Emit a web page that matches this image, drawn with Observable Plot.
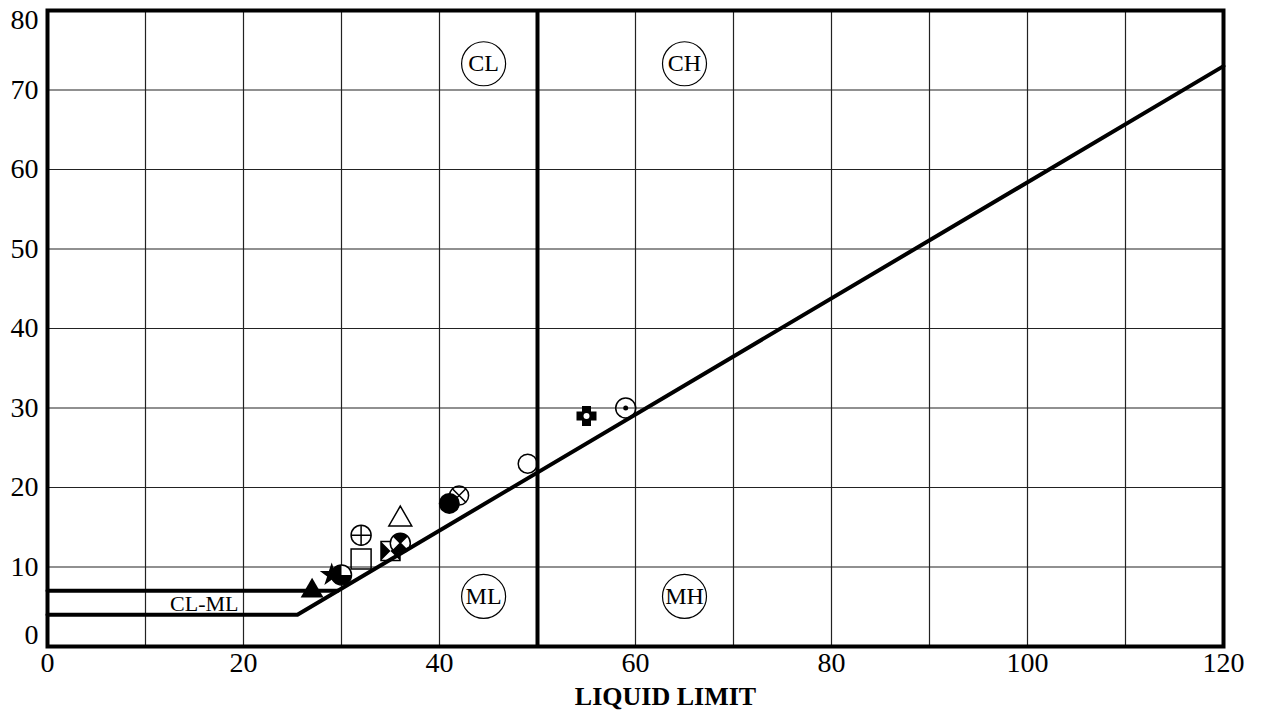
<!DOCTYPE html>
<html>
<head>
<meta charset="utf-8">
<script src="https://cdn.jsdelivr.net/npm/d3@7"></script>
<script src="https://cdn.jsdelivr.net/npm/@observablehq/plot@0.6"></script>
<style>
  html, body { margin: 0; padding: 0; background: #fff; }
  svg text { font-family: "Liberation Serif", "Times New Roman", serif; }
</style>
</head>
<body>
<div id="chart"></div>
<script>
// ---- Data ----
const sampleLL = [27, 29, 30, 32, 32, 35, 36, 36, 41, 42, 49, 55, 59];
const samplePI = [7, 9, 9, 11, 14, 12, 13, 16, 18, 19, 23, 29, 30];
const sampleKind = ["triangleFilled", "starFilled", "circleQuarter", "square", "circlePlus", "bowtie",
  "circleXFilled", "triangle", "circleFilled", "circleX", "circle", "crossHole", "circleDot"];

// A-line (with 4 PI base) and the upper CL-ML boundary (PI = 7)
const aLineLL = [0, 25.5, 120];
const aLinePI = [4, 4, 73];
const upperLL = [0, 29.6];
const upperPI = [7, 7];
const dividerLL = [50];

const zoneNames = ["CL", "CH", "ML", "MH"];
const zoneLL = [44.5, 65, 44.5, 65];
const zonePI = [73.3, 73.3, 6.3, 6.3];
const clmlLabel = ["CL-ML"];
const clmlLL = [16];
const clmlPI = [5.4];

const xTicks = [0, 20, 40, 60, 80, 100, 120];
const yTicksMid = [10, 20, 30, 40, 50, 60, 70];
const yTickTop = [80];
const yTickBottom = [0];
const gridXVals = [10, 20, 30, 40, 50, 60, 70, 80, 90, 100, 110];
const gridYVals = [10, 20, 30, 40, 50, 60, 70];
const xLabel = "LIQUID LIMIT";

// ---- custom symbols ----
const rad = (size) => Math.sqrt(size / Math.PI);
const sym = (f) => ({draw(ctx, size) { f(ctx, rad(size)); }});
const wedgeFill = sym((c, r) => { c.moveTo(0, 0); c.lineTo(r, 0); c.arc(0, 0, r, 0, 1.5 * Math.PI); c.closePath(); });
const xWedges = sym((c, r) => {
  const a = Math.PI / 4;
  c.moveTo(0, 0); c.arc(0, 0, r, -3 * a, -a); c.closePath();
  c.moveTo(0, 0); c.arc(0, 0, r, a, 3 * a); c.closePath();
});
const xLines = sym((c, r) => { const k = r * Math.SQRT1_2; c.moveTo(-k, -k); c.lineTo(k, k); c.moveTo(k, -k); c.lineTo(-k, k); });
const plusLines = sym((c, r) => { c.moveTo(-r, 0); c.lineTo(r, 0); c.moveTo(0, -r); c.lineTo(0, r); });
const squareOutline = sym((c, r) => { c.moveTo(-r, -r); c.lineTo(r, -r); c.lineTo(r, r); c.lineTo(-r, r); c.closePath(); });
const bowtieFill = sym((c, r) => {
  c.moveTo(-r, -r); c.lineTo(0, 0); c.lineTo(-r, r); c.closePath();
  c.moveTo(r, -r); c.lineTo(0, 0); c.lineTo(r, r); c.closePath();
});
const crossFill = sym((c, r) => {
  const w = 0.45 * r;
  c.moveTo(-w, -r); c.lineTo(w, -r); c.lineTo(w, -w); c.lineTo(r, -w); c.lineTo(r, w); c.lineTo(w, w);
  c.lineTo(w, r); c.lineTo(-w, r); c.lineTo(-w, w); c.lineTo(-r, w); c.lineTo(-r, -w); c.lineTo(-w, -w); c.closePath();
});

const idx = d3.range(sampleLL.length);
const pick = (k) => idx.filter((i) => sampleKind[i] === k);
const dots = (k, opts) => Plot.dot(pick(k), {x: (i) => sampleLL[i], y: (i) => samplePI[i], ...opts});
const outline = {fill: "none", stroke: "black", strokeWidth: 1.5};
const solid = {fill: "black", stroke: "none"};
const serif = "Liberation Serif";

const aLine = aLineLL.map((x, i) => ({x, y: aLinePI[i]}));
const upper = upperLL.map((x, i) => ({x, y: upperPI[i]}));
const zones = zoneNames.map((n, i) => ({n, x: zoneLL[i], y: zonePI[i]}));
const axisOpts = {tickSize: 0, fontSize: 28, fontFamily: serif, label: null, fill: "black"};

const chart = Plot.plot({
  width: 1264,
  height: 717,
  marginLeft: 47,
  marginRight: 41,
  marginTop: 10,
  marginBottom: 71,
  style: {fontFamily: serif, fontSize: "28px", background: "white", color: "black"},
  x: {domain: [0, 120]},
  y: {domain: [0, 80]},
  marks: [
    Plot.gridX(gridXVals, {stroke: "#222", strokeOpacity: 1, strokeWidth: 1.2}),
    Plot.gridY(gridYVals, {stroke: "#222", strokeOpacity: 1, strokeWidth: 1.2}),
    Plot.axisX(xTicks, {...axisOpts, tickPadding: 6}),
    Plot.axisY(yTicksMid, {...axisOpts, tickPadding: 9}),
    Plot.axisY(yTickTop, {...axisOpts, tickPadding: 9, dy: 10}),
    Plot.axisY(yTickBottom, {...axisOpts, tickPadding: 9, dy: -11}),
    // markers
    dots("triangleFilled", {symbol: "triangle", r: 8.5, ...solid}),
    dots("starFilled", {symbol: "star", r: 7.5, ...solid}),
    dots("circleQuarter", {r: 10, fill: "white", stroke: "black", strokeWidth: 1.5}),
    dots("circleQuarter", {symbol: wedgeFill, r: 10, ...solid}),
    dots("square", {symbol: squareOutline, r: 10, ...outline}),
    dots("circlePlus", {r: 10, ...outline}),
    dots("circlePlus", {symbol: plusLines, r: 10, ...outline}),
    dots("bowtie", {symbol: squareOutline, r: 9.5, ...outline}),
    dots("bowtie", {symbol: bowtieFill, r: 9.5, ...solid}),
    dots("circleXFilled", {r: 10, fill: "white", stroke: "black", strokeWidth: 1.5}),
    dots("circleXFilled", {symbol: xWedges, r: 10, ...solid}),
    dots("circleXFilled", {symbol: xLines, r: 10, ...outline}),
    dots("triangle", {symbol: "triangle", r: 8.5, ...outline}),
    dots("circleFilled", {r: 10.5, ...solid}),
    dots("circleX", {r: 9.5, ...outline}),
    dots("circleX", {symbol: xLines, r: 9.5, ...outline}),
    dots("circle", {r: 9.5, ...outline}),
    dots("crossHole", {symbol: crossFill, r: 10, ...solid}),
    dots("crossHole", {r: 3, fill: "white", stroke: "none"}),
    dots("circleDot", {r: 10, ...outline}),
    dots("circleDot", {r: 2.5, ...solid}),
    // boundary lines
    Plot.line(aLine, {x: "x", y: "y", stroke: "black", strokeWidth: 4, strokeLinejoin: "round"}),
    Plot.line(upper, {x: "x", y: "y", stroke: "black", strokeWidth: 4}),
    Plot.ruleX(dividerLL, {stroke: "black", strokeWidth: 4}),
    Plot.frame({stroke: "black", strokeWidth: 4}),
    // zone labels
    Plot.dot(zones, {x: "x", y: "y", r: 22, fill: "white", stroke: "black", strokeWidth: 1.2}),
    Plot.text(zones, {x: "x", y: "y", text: "n", fontSize: 24, fontFamily: serif, fill: "black"}),
    Plot.text(clmlLabel, {x: () => clmlLL[0], y: () => clmlPI[0], text: (d) => d, fontSize: 22, fontFamily: serif, fill: "black"}),
    Plot.text([xLabel], {frameAnchor: "bottom", dy: 58, dx: 30, text: (d) => d, fontSize: 26, fontFamily: serif, fontWeight: "bold", fill: "black"})
  ]
});
document.getElementById("chart").appendChild(chart);
</script>
</body>
</html>
